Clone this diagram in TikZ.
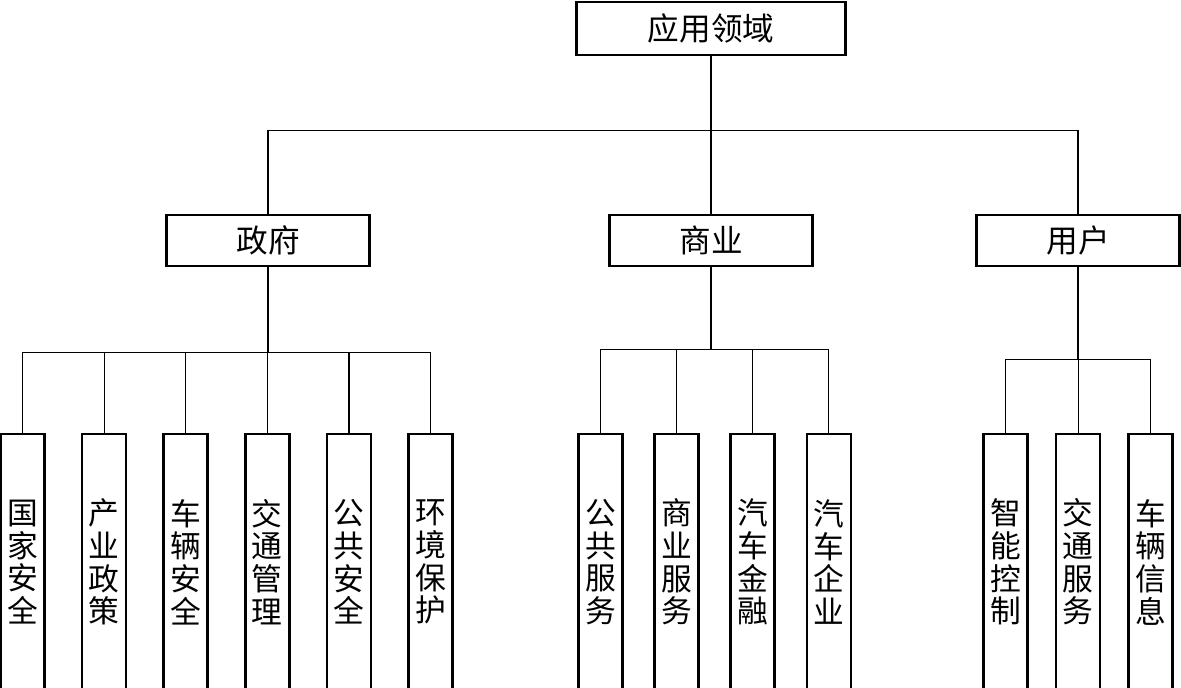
\documentclass[tikz,border=0pt]{standalone}
\usepackage{fontspec}
\newfontfamily\cjk{Noto Sans CJK SC}
\usetikzlibrary{positioning}

\begin{document}
\begin{tikzpicture}[
    x=0.02cm, y=-0.02cm,
    head/.style={rectangle, draw, line width=1.5pt, minimum width=5.38cm, minimum height=1.06cm, font=\cjk\fontsize{18}{20}\selectfont},
    branch/.style={rectangle, draw, line width=1.5pt, minimum width=4.06cm, minimum height=1.02cm, font=\cjk\fontsize{18}{20}\selectfont},
    leaf/.style={rectangle, draw, line width=1.5pt, minimum width=0.88cm, minimum height=5.12cm, inner sep=0pt, align=center, font=\cjk\fontsize{17.5}{18.6}\selectfont},
    link/.style={line width=0.6pt},
  ]
    \useasboundingbox (0,0) rectangle (1181,688);

    % root and the three fields
    \node[head] (root) at (711,28.5) {应用领域};
    \node[branch] (gov) at (268,240.5) {政府};
    \node[branch] (biz) at (711,240.5) {商业};
    \node[branch] (usr) at (1078,240.5) {用户};
    \draw[link] (root.south) -- ++(0,74) coordinate (rj);
    \draw[link] (gov.north) |- (rj) -| (usr.north);
    \draw[link] (rj) -- (biz.north);

    % government
    \node[leaf] (g1) at (22.5,562) {国\\家\\安\\全};
    \node[leaf, right=0.7cm of g1] (g2) {产\\业\\政\\策};
    \node[leaf, right=0.7cm of g2] (g3) {车\\辆\\安\\全};
    \node[leaf, right=0.7cm of g3] (g4) {交\\通\\管\\理};
    \node[leaf, right=0.7cm of g4] (g5) {公\\共\\安\\全};
    \node[leaf, right=0.7cm of g5] (g6) {环\\境\\保\\护};
    \draw[link] (gov.south) -- ++(0,85) coordinate (gj);
    \draw[link] (g1.north) |- (gj) -| (g6.north);
    \draw[link] (gj) -| (g2.north);
    \draw[link] (gj) -| (g3.north);
    \draw[link] (gj) -| (g4.north);
    \draw[link] (gj) -| (g5.north);

    % business
    \node[leaf] (b1) at (600.5,562) {公\\共\\服\\务};
    \node[leaf, right=0.59cm of b1] (b2) {商\\业\\服\\务};
    \node[leaf, right=0.59cm of b2] (b3) {汽\\车\\金\\融};
    \node[leaf, right=0.59cm of b3] (b4) {汽\\车\\企\\业};
    \draw[link] (biz.south) -- ++(0,82) coordinate (bj);
    \draw[link] (b1.north) |- (bj) -| (b4.north);
    \draw[link] (bj) -| (b2.north);
    \draw[link] (bj) -| (b3.north);

    % users
    \node[leaf] (u1) at (1005.5,562) {智\\能\\控\\制};
    \node[leaf, right=0.52cm of u1] (u2) {交\\通\\服\\务};
    \node[leaf, right=0.52cm of u2] (u3) {车\\辆\\信\\息};
    \draw[link] (usr.south) -- ++(0,92) coordinate (uj);
    \draw[link] (u1.north) |- (uj) -| (u3.north);
    \draw[link] (uj) -| (u2.north);
  \end{tikzpicture}
\end{document}
